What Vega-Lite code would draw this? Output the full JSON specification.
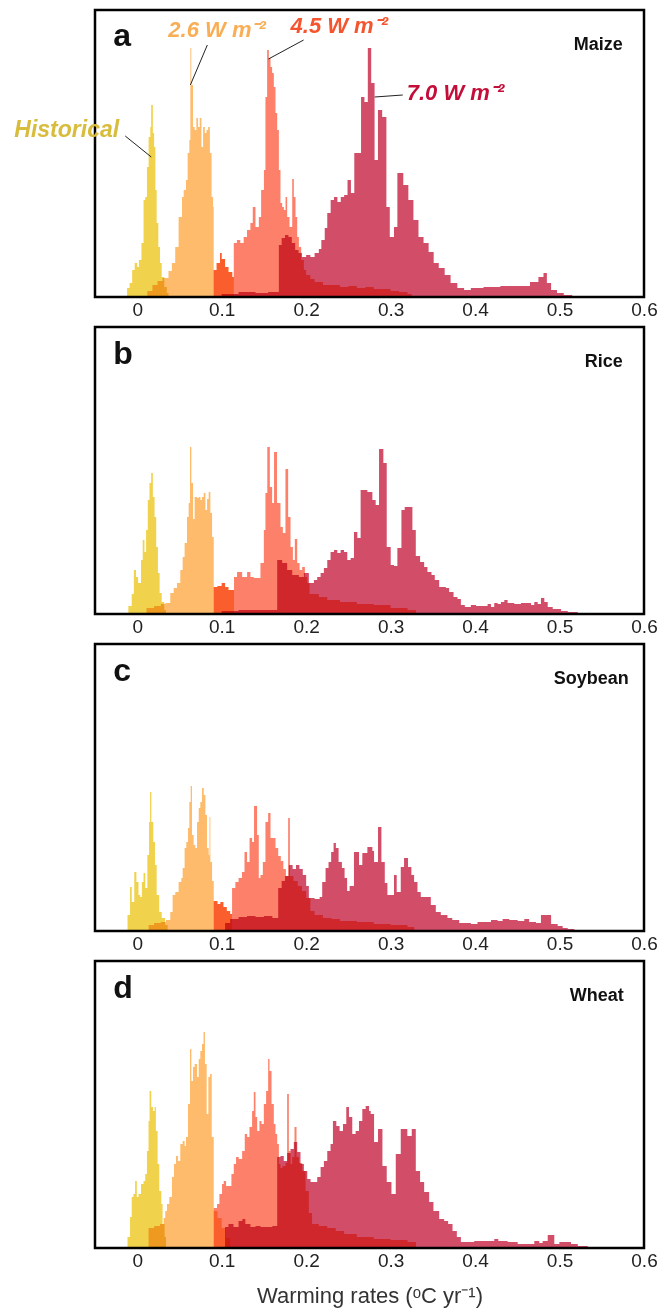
{
"$schema": "https://vega.github.io/schema/vega-lite/v6.json",
"background": "white",
"padding": {"left": 13, "top": 8, "right": 4, "bottom": 2},
"spacing": 4,
"config": {
 "font": "Liberation Sans",
 "view": {"stroke": "#000", "strokeWidth": 2.5},
 "axisX": {"ticks": false, "domain": false, "grid": false, "labelFontSize": 19, "labelColor": "#222", "labelPadding": 3, "labelFlush": false, "labelOverlap": false, "minExtent": 22, "maxExtent": 22, "titleFontSize": 22, "titleFontWeight": "normal", "titleColor": "#333", "titlePadding": 15}
},
"datasets": {
"a": [
{"s":"H","x":-0.012,"n":9},{"s":"H","x":-0.009,"n":14},{"s":"H","x":-0.006,"n":27},{"s":"H","x":-0.003,"n":34},{"s":"H","x":0,"n":30},{"s":"H","x":0.002,"n":37},{"s":"H","x":0.005,"n":54},{"s":"H","x":0.0075,"n":97},{"s":"H","x":0.0095,"n":100},{"s":"H","x":0.0115,"n":130},{"s":"H","x":0.0135,"n":160},{"s":"H","x":0.0155,"n":170},{"s":"H","x":0.0165,"n":192},{"s":"H","x":0.0185,"n":164},{"s":"H","x":0.02,"n":150},{"s":"H","x":0.0215,"n":107},{"s":"H","x":0.023,"n":74},{"s":"H","x":0.025,"n":50},{"s":"H","x":0.027,"n":34},{"s":"H","x":0.029,"n":20},{"s":"H","x":0.032,"n":10},{"s":"H","x":0.035,"n":4},{"s":"H","x":0.037,"n":0},
{"s":"2.6","x":0.012,"n":6},{"s":"2.6","x":0.018,"n":12},{"s":"2.6","x":0.024,"n":16},{"s":"2.6","x":0.03,"n":19},{"s":"2.6","x":0.0335,"n":19},{"s":"2.6","x":0.037,"n":26},{"s":"2.6","x":0.041,"n":34},{"s":"2.6","x":0.045,"n":50},{"s":"2.6","x":0.049,"n":80},{"s":"2.6","x":0.053,"n":100},{"s":"2.6","x":0.055,"n":107},{"s":"2.6","x":0.0577,"n":117},{"s":"2.6","x":0.0597,"n":144},{"s":"2.6","x":0.0617,"n":157},{"s":"2.6","x":0.0629,"n":249},{"s":"2.6","x":0.064,"n":212},{"s":"2.6","x":0.066,"n":170},{"s":"2.6","x":0.068,"n":167},{"s":"2.6","x":0.07,"n":179},{"s":"2.6","x":0.072,"n":170},{"s":"2.6","x":0.074,"n":179},{"s":"2.6","x":0.076,"n":150},{"s":"2.6","x":0.078,"n":170},{"s":"2.6","x":0.08,"n":164},{"s":"2.6","x":0.082,"n":167},{"s":"2.6","x":0.084,"n":170},{"s":"2.6","x":0.086,"n":144},{"s":"2.6","x":0.088,"n":100},{"s":"2.6","x":0.0898,"n":90},{"s":"2.6","x":0.0905,"n":27},{"s":"2.6","x":0.094,"n":34},{"s":"2.6","x":0.098,"n":44},{"s":"2.6","x":0.1,"n":38},{"s":"2.6","x":0.104,"n":30},{"s":"2.6","x":0.108,"n":25},{"s":"2.6","x":0.1125,"n":20},{"s":"2.6","x":0.1143,"n":0},
{"s":"4.5","x":0.0905,"n":27},{"s":"4.5","x":0.094,"n":34},{"s":"4.5","x":0.098,"n":44},{"s":"4.5","x":0.1,"n":38},{"s":"4.5","x":0.104,"n":30},{"s":"4.5","x":0.108,"n":25},{"s":"4.5","x":0.1125,"n":20},{"s":"4.5","x":0.1143,"n":54},{"s":"4.5","x":0.118,"n":57},{"s":"4.5","x":0.122,"n":54},{"s":"4.5","x":0.126,"n":60},{"s":"4.5","x":0.13,"n":67},{"s":"4.5","x":0.134,"n":74},{"s":"4.5","x":0.1368,"n":90},{"s":"4.5","x":0.14,"n":70},{"s":"4.5","x":0.144,"n":80},{"s":"4.5","x":0.1467,"n":107},{"s":"4.5","x":0.15,"n":127},{"s":"4.5","x":0.1518,"n":200},{"s":"4.5","x":0.1538,"n":247},{"s":"4.5","x":0.1558,"n":239},{"s":"4.5","x":0.1578,"n":230},{"s":"4.5","x":0.1597,"n":224},{"s":"4.5","x":0.1617,"n":210},{"s":"4.5","x":0.1637,"n":184},{"s":"4.5","x":0.1657,"n":167},{"s":"4.5","x":0.1677,"n":127},{"s":"4.5","x":0.1696,"n":94},{"s":"4.5","x":0.1716,"n":90},{"s":"4.5","x":0.1736,"n":87},{"s":"4.5","x":0.1756,"n":100},{"s":"4.5","x":0.1775,"n":80},{"s":"4.5","x":0.1803,"n":70},{"s":"4.5","x":0.1835,"n":118},{"s":"4.5","x":0.1854,"n":100},{"s":"4.5","x":0.1874,"n":80},{"s":"4.5","x":0.1894,"n":60},{"s":"4.5","x":0.1914,"n":50},{"s":"4.5","x":0.1941,"n":37},{"s":"4.5","x":0.1973,"n":27},{"s":"4.5","x":0.2,"n":22},{"s":"4.5","x":0.205,"n":18},{"s":"4.5","x":0.21,"n":15},{"s":"4.5","x":0.22,"n":12},{"s":"4.5","x":0.23,"n":12},{"s":"4.5","x":0.24,"n":10},{"s":"4.5","x":0.25,"n":11},{"s":"4.5","x":0.26,"n":9},{"s":"4.5","x":0.27,"n":10},{"s":"4.5","x":0.28,"n":8},{"s":"4.5","x":0.29,"n":8},{"s":"4.5","x":0.3,"n":6},{"s":"4.5","x":0.31,"n":5},{"s":"4.5","x":0.32,"n":3},{"s":"4.5","x":0.325,"n":0},
{"s":"7.0","x":0.1,"n":3},{"s":"7.0","x":0.12,"n":5},{"s":"7.0","x":0.14,"n":4},{"s":"7.0","x":0.155,"n":5},{"s":"7.0","x":0.1677,"n":52},{"s":"7.0","x":0.171,"n":59},{"s":"7.0","x":0.175,"n":62},{"s":"7.0","x":0.179,"n":60},{"s":"7.0","x":0.183,"n":54},{"s":"7.0","x":0.187,"n":47},{"s":"7.0","x":0.191,"n":44},{"s":"7.0","x":0.195,"n":40},{"s":"7.0","x":0.2,"n":42},{"s":"7.0","x":0.205,"n":40},{"s":"7.0","x":0.21,"n":44},{"s":"7.0","x":0.215,"n":48},{"s":"7.0","x":0.218,"n":57},{"s":"7.0","x":0.222,"n":69},{"s":"7.0","x":0.225,"n":84},{"s":"7.0","x":0.229,"n":97},{"s":"7.0","x":0.233,"n":100},{"s":"7.0","x":0.237,"n":95},{"s":"7.0","x":0.241,"n":100},{"s":"7.0","x":0.245,"n":102},{"s":"7.0","x":0.249,"n":117},{"s":"7.0","x":0.253,"n":104},{"s":"7.0","x":0.257,"n":144},{"s":"7.0","x":0.261,"n":144},{"s":"7.0","x":0.265,"n":200},{"s":"7.0","x":0.269,"n":195},{"s":"7.0","x":0.273,"n":249},{"s":"7.0","x":0.277,"n":214},{"s":"7.0","x":0.281,"n":137},{"s":"7.0","x":0.285,"n":187},{"s":"7.0","x":0.29,"n":180},{"s":"7.0","x":0.295,"n":90},{"s":"7.0","x":0.299,"n":60},{"s":"7.0","x":0.304,"n":70},{"s":"7.0","x":0.308,"n":124},{"s":"7.0","x":0.315,"n":112},{"s":"7.0","x":0.321,"n":97},{"s":"7.0","x":0.327,"n":77},{"s":"7.0","x":0.333,"n":60},{"s":"7.0","x":0.339,"n":54},{"s":"7.0","x":0.345,"n":45},{"s":"7.0","x":0.351,"n":34},{"s":"7.0","x":0.357,"n":29},{"s":"7.0","x":0.364,"n":22},{"s":"7.0","x":0.371,"n":14},{"s":"7.0","x":0.379,"n":9},{"s":"7.0","x":0.387,"n":7},{"s":"7.0","x":0.395,"n":9},{"s":"7.0","x":0.41,"n":10},{"s":"7.0","x":0.43,"n":11},{"s":"7.0","x":0.45,"n":11},{"s":"7.0","x":0.465,"n":15},{"s":"7.0","x":0.475,"n":20},{"s":"7.0","x":0.481,"n":24},{"s":"7.0","x":0.485,"n":14},{"s":"7.0","x":0.49,"n":7},{"s":"7.0","x":0.497,"n":4},{"s":"7.0","x":0.505,"n":2},{"s":"7.0","x":0.515,"n":0}
],
"b": [
{"s":"H","x":-0.0105,"n":8},{"s":"H","x":-0.0065,"n":20},{"s":"H","x":-0.004,"n":44},{"s":"H","x":-0.0015,"n":37},{"s":"H","x":0.001,"n":31},{"s":"H","x":0.0045,"n":54},{"s":"H","x":0.0065,"n":74},{"s":"H","x":0.0085,"n":62},{"s":"H","x":0.0105,"n":84},{"s":"H","x":0.0125,"n":114},{"s":"H","x":0.0145,"n":131},{"s":"H","x":0.0165,"n":141},{"s":"H","x":0.0185,"n":117},{"s":"H","x":0.0205,"n":97},{"s":"H","x":0.0225,"n":67},{"s":"H","x":0.0245,"n":41},{"s":"H","x":0.0265,"n":21},{"s":"H","x":0.029,"n":12},{"s":"H","x":0.032,"n":4},{"s":"H","x":0.034,"n":0},
{"s":"2.6","x":0.011,"n":6},{"s":"2.6","x":0.02,"n":8},{"s":"2.6","x":0.028,"n":10},{"s":"2.6","x":0.0332,"n":11},{"s":"2.6","x":0.0391,"n":21},{"s":"2.6","x":0.0431,"n":26},{"s":"2.6","x":0.0471,"n":31},{"s":"2.6","x":0.051,"n":44},{"s":"2.6","x":0.0538,"n":57},{"s":"2.6","x":0.0561,"n":71},{"s":"2.6","x":0.0589,"n":97},{"s":"2.6","x":0.0609,"n":111},{"s":"2.6","x":0.0625,"n":167},{"s":"2.6","x":0.0641,"n":131},{"s":"2.6","x":0.0661,"n":95},{"s":"2.6","x":0.068,"n":117},{"s":"2.6","x":0.0708,"n":116},{"s":"2.6","x":0.0728,"n":117},{"s":"2.6","x":0.0748,"n":114},{"s":"2.6","x":0.0767,"n":117},{"s":"2.6","x":0.0787,"n":121},{"s":"2.6","x":0.0807,"n":104},{"s":"2.6","x":0.0827,"n":115},{"s":"2.6","x":0.0846,"n":122},{"s":"2.6","x":0.0866,"n":101},{"s":"2.6","x":0.0886,"n":77},{"s":"2.6","x":0.0906,"n":27},{"s":"2.6","x":0.095,"n":28},{"s":"2.6","x":0.1,"n":31},{"s":"2.6","x":0.104,"n":27},{"s":"2.6","x":0.108,"n":24},{"s":"2.6","x":0.1146,"n":0},
{"s":"4.5","x":0.0906,"n":27},{"s":"4.5","x":0.095,"n":28},{"s":"4.5","x":0.1,"n":31},{"s":"4.5","x":0.104,"n":27},{"s":"4.5","x":0.108,"n":24},{"s":"4.5","x":0.1146,"n":37},{"s":"4.5","x":0.1182,"n":42},{"s":"4.5","x":0.1242,"n":37},{"s":"4.5","x":0.1301,"n":42},{"s":"4.5","x":0.134,"n":37},{"s":"4.5","x":0.138,"n":36},{"s":"4.5","x":0.1459,"n":51},{"s":"4.5","x":0.1499,"n":84},{"s":"4.5","x":0.1518,"n":121},{"s":"4.5","x":0.154,"n":167},{"s":"4.5","x":0.157,"n":127},{"s":"4.5","x":0.1597,"n":111},{"s":"4.5","x":0.162,"n":162},{"s":"4.5","x":0.1655,"n":111},{"s":"4.5","x":0.1696,"n":87},{"s":"4.5","x":0.1724,"n":81},{"s":"4.5","x":0.1755,"n":145},{"s":"4.5","x":0.1787,"n":97},{"s":"4.5","x":0.1815,"n":67},{"s":"4.5","x":0.1843,"n":54},{"s":"4.5","x":0.1866,"n":75},{"s":"4.5","x":0.1894,"n":51},{"s":"4.5","x":0.1922,"n":44},{"s":"4.5","x":0.1953,"n":47},{"s":"4.5","x":0.1985,"n":37},{"s":"4.5","x":0.2013,"n":31},{"s":"4.5","x":0.204,"n":20},{"s":"4.5","x":0.215,"n":17},{"s":"4.5","x":0.225,"n":14},{"s":"4.5","x":0.24,"n":12},{"s":"4.5","x":0.26,"n":10},{"s":"4.5","x":0.28,"n":9},{"s":"4.5","x":0.3,"n":6},{"s":"4.5","x":0.32,"n":4},{"s":"4.5","x":0.33,"n":0},
{"s":"7.0","x":0.1,"n":3},{"s":"7.0","x":0.12,"n":4},{"s":"7.0","x":0.14,"n":4},{"s":"7.0","x":0.155,"n":4},{"s":"7.0","x":0.1657,"n":54},{"s":"7.0","x":0.1716,"n":51},{"s":"7.0","x":0.1775,"n":44},{"s":"7.0","x":0.1835,"n":39},{"s":"7.0","x":0.1914,"n":37},{"s":"7.0","x":0.1973,"n":41},{"s":"7.0","x":0.2032,"n":31},{"s":"7.0","x":0.2092,"n":34},{"s":"7.0","x":0.2131,"n":37},{"s":"7.0","x":0.2171,"n":41},{"s":"7.0","x":0.221,"n":46},{"s":"7.0","x":0.225,"n":54},{"s":"7.0","x":0.2289,"n":62},{"s":"7.0","x":0.2329,"n":64},{"s":"7.0","x":0.2369,"n":61},{"s":"7.0","x":0.2408,"n":64},{"s":"7.0","x":0.2448,"n":62},{"s":"7.0","x":0.2487,"n":54},{"s":"7.0","x":0.2527,"n":56},{"s":"7.0","x":0.2566,"n":82},{"s":"7.0","x":0.2606,"n":76},{"s":"7.0","x":0.2645,"n":124},{"s":"7.0","x":0.2725,"n":122},{"s":"7.0","x":0.2784,"n":114},{"s":"7.0","x":0.2823,"n":109},{"s":"7.0","x":0.2863,"n":165},{"s":"7.0","x":0.2914,"n":151},{"s":"7.0","x":0.2954,"n":67},{"s":"7.0","x":0.3001,"n":49},{"s":"7.0","x":0.304,"n":48},{"s":"7.0","x":0.308,"n":66},{"s":"7.0","x":0.3128,"n":104},{"s":"7.0","x":0.3167,"n":107},{"s":"7.0","x":0.3258,"n":84},{"s":"7.0","x":0.3298,"n":58},{"s":"7.0","x":0.3349,"n":52},{"s":"7.0","x":0.3397,"n":47},{"s":"7.0","x":0.3436,"n":42},{"s":"7.0","x":0.3484,"n":39},{"s":"7.0","x":0.3523,"n":34},{"s":"7.0","x":0.3575,"n":27},{"s":"7.0","x":0.3654,"n":26},{"s":"7.0","x":0.3693,"n":22},{"s":"7.0","x":0.3745,"n":17},{"s":"7.0","x":0.3792,"n":15},{"s":"7.0","x":0.3832,"n":9},{"s":"7.0","x":0.3879,"n":7},{"s":"7.0","x":0.395,"n":9},{"s":"7.0","x":0.401,"n":8},{"s":"7.0","x":0.4148,"n":10},{"s":"7.0","x":0.4188,"n":7},{"s":"7.0","x":0.4227,"n":11},{"s":"7.0","x":0.4267,"n":10},{"s":"7.0","x":0.4306,"n":12},{"s":"7.0","x":0.4346,"n":14},{"s":"7.0","x":0.4385,"n":11},{"s":"7.0","x":0.4464,"n":10},{"s":"7.0","x":0.4543,"n":11},{"s":"7.0","x":0.4662,"n":9},{"s":"7.0","x":0.4701,"n":12},{"s":"7.0","x":0.4741,"n":10},{"s":"7.0","x":0.478,"n":16},{"s":"7.0","x":0.482,"n":12},{"s":"7.0","x":0.486,"n":7},{"s":"7.0","x":0.4919,"n":5},{"s":"7.0","x":0.5018,"n":3},{"s":"7.0","x":0.5097,"n":2},{"s":"7.0","x":0.5216,"n":0}
],
"c": [
{"s":"H","x":-0.0115,"n":16},{"s":"H","x":-0.0085,"n":44},{"s":"H","x":-0.0065,"n":29},{"s":"H","x":-0.0035,"n":59},{"s":"H","x":-0.001,"n":49},{"s":"H","x":0.0015,"n":36},{"s":"H","x":0.0035,"n":34},{"s":"H","x":0.0055,"n":49},{"s":"H","x":0.0075,"n":58},{"s":"H","x":0.0095,"n":43},{"s":"H","x":0.012,"n":76},{"s":"H","x":0.014,"n":109},{"s":"H","x":0.0152,"n":139},{"s":"H","x":0.0167,"n":109},{"s":"H","x":0.019,"n":89},{"s":"H","x":0.021,"n":66},{"s":"H","x":0.023,"n":36},{"s":"H","x":0.026,"n":19},{"s":"H","x":0.029,"n":13},{"s":"H","x":0.033,"n":6},{"s":"H","x":0.036,"n":0},
{"s":"2.6","x":0.0135,"n":6},{"s":"2.6","x":0.02,"n":8},{"s":"2.6","x":0.028,"n":9},{"s":"2.6","x":0.034,"n":11},{"s":"2.6","x":0.0391,"n":19},{"s":"2.6","x":0.0419,"n":36},{"s":"2.6","x":0.0451,"n":39},{"s":"2.6","x":0.049,"n":49},{"s":"2.6","x":0.0522,"n":53},{"s":"2.6","x":0.0538,"n":63},{"s":"2.6","x":0.0561,"n":83},{"s":"2.6","x":0.0581,"n":89},{"s":"2.6","x":0.0601,"n":103},{"s":"2.6","x":0.0617,"n":129},{"s":"2.6","x":0.0633,"n":145},{"s":"2.6","x":0.0648,"n":96},{"s":"2.6","x":0.0668,"n":86},{"s":"2.6","x":0.0688,"n":83},{"s":"2.6","x":0.0708,"n":109},{"s":"2.6","x":0.0728,"n":123},{"s":"2.6","x":0.0747,"n":129},{"s":"2.6","x":0.0767,"n":143},{"s":"2.6","x":0.0787,"n":136},{"s":"2.6","x":0.0807,"n":116},{"s":"2.6","x":0.0826,"n":83},{"s":"2.6","x":0.0846,"n":76},{"s":"2.6","x":0.0856,"n":114},{"s":"2.6","x":0.0866,"n":69},{"s":"2.6","x":0.0886,"n":50},{"s":"2.6","x":0.0906,"n":30},{"s":"2.6","x":0.095,"n":27},{"s":"2.6","x":0.0985,"n":29},{"s":"2.6","x":0.102,"n":24},{"s":"2.6","x":0.106,"n":20},{"s":"2.6","x":0.11,"n":17},{"s":"2.6","x":0.1123,"n":0},
{"s":"4.5","x":0.0906,"n":30},{"s":"4.5","x":0.095,"n":27},{"s":"4.5","x":0.0985,"n":29},{"s":"4.5","x":0.102,"n":24},{"s":"4.5","x":0.106,"n":20},{"s":"4.5","x":0.11,"n":17},{"s":"4.5","x":0.1123,"n":43},{"s":"4.5","x":0.1162,"n":49},{"s":"4.5","x":0.12,"n":53},{"s":"4.5","x":0.124,"n":59},{"s":"4.5","x":0.127,"n":79},{"s":"4.5","x":0.13,"n":69},{"s":"4.5","x":0.133,"n":93},{"s":"4.5","x":0.136,"n":89},{"s":"4.5","x":0.1383,"n":125},{"s":"4.5","x":0.1419,"n":96},{"s":"4.5","x":0.1439,"n":53},{"s":"4.5","x":0.1459,"n":56},{"s":"4.5","x":0.1487,"n":69},{"s":"4.5","x":0.1518,"n":109},{"s":"4.5","x":0.155,"n":118},{"s":"4.5","x":0.1578,"n":93},{"s":"4.5","x":0.1606,"n":93},{"s":"4.5","x":0.1637,"n":83},{"s":"4.5","x":0.1669,"n":75},{"s":"4.5","x":0.17,"n":70},{"s":"4.5","x":0.173,"n":62},{"s":"4.5","x":0.176,"n":55},{"s":"4.5","x":0.1787,"n":113},{"s":"4.5","x":0.1807,"n":55},{"s":"4.5","x":0.185,"n":50},{"s":"4.5","x":0.19,"n":45},{"s":"4.5","x":0.195,"n":40},{"s":"4.5","x":0.2,"n":33},{"s":"4.5","x":0.205,"n":20},{"s":"4.5","x":0.21,"n":16},{"s":"4.5","x":0.22,"n":13},{"s":"4.5","x":0.23,"n":12},{"s":"4.5","x":0.24,"n":10},{"s":"4.5","x":0.26,"n":9},{"s":"4.5","x":0.28,"n":7},{"s":"4.5","x":0.3,"n":6},{"s":"4.5","x":0.32,"n":4},{"s":"4.5","x":0.328,"n":0},
{"s":"7.0","x":0.104,"n":8},{"s":"7.0","x":0.11,"n":12},{"s":"7.0","x":0.12,"n":14},{"s":"7.0","x":0.13,"n":15},{"s":"7.0","x":0.14,"n":14},{"s":"7.0","x":0.15,"n":15},{"s":"7.0","x":0.16,"n":13},{"s":"7.0","x":0.1669,"n":43},{"s":"7.0","x":0.171,"n":50},{"s":"7.0","x":0.175,"n":55},{"s":"7.0","x":0.1795,"n":66},{"s":"7.0","x":0.184,"n":62},{"s":"7.0","x":0.188,"n":66},{"s":"7.0","x":0.192,"n":62},{"s":"7.0","x":0.196,"n":56},{"s":"7.0","x":0.2,"n":45},{"s":"7.0","x":0.2032,"n":33},{"s":"7.0","x":0.21,"n":32},{"s":"7.0","x":0.216,"n":34},{"s":"7.0","x":0.219,"n":49},{"s":"7.0","x":0.223,"n":63},{"s":"7.0","x":0.2265,"n":69},{"s":"7.0","x":0.2296,"n":79},{"s":"7.0","x":0.2325,"n":88},{"s":"7.0","x":0.2352,"n":83},{"s":"7.0","x":0.2384,"n":69},{"s":"7.0","x":0.2423,"n":63},{"s":"7.0","x":0.2455,"n":53},{"s":"7.0","x":0.2485,"n":40},{"s":"7.0","x":0.2515,"n":45},{"s":"7.0","x":0.2566,"n":79},{"s":"7.0","x":0.2626,"n":66},{"s":"7.0","x":0.2665,"n":78},{"s":"7.0","x":0.2725,"n":84},{"s":"7.0","x":0.2784,"n":80},{"s":"7.0","x":0.2804,"n":69},{"s":"7.0","x":0.2851,"n":104},{"s":"7.0","x":0.2891,"n":69},{"s":"7.0","x":0.2931,"n":48},{"s":"7.0","x":0.2962,"n":36},{"s":"7.0","x":0.304,"n":56},{"s":"7.0","x":0.3072,"n":39},{"s":"7.0","x":0.312,"n":64},{"s":"7.0","x":0.3159,"n":73},{"s":"7.0","x":0.3206,"n":64},{"s":"7.0","x":0.3246,"n":56},{"s":"7.0","x":0.3278,"n":49},{"s":"7.0","x":0.3318,"n":39},{"s":"7.0","x":0.3357,"n":34},{"s":"7.0","x":0.3476,"n":26},{"s":"7.0","x":0.3535,"n":19},{"s":"7.0","x":0.3594,"n":16},{"s":"7.0","x":0.3673,"n":13},{"s":"7.0","x":0.373,"n":11},{"s":"7.0","x":0.3812,"n":8},{"s":"7.0","x":0.395,"n":7},{"s":"7.0","x":0.4029,"n":9},{"s":"7.0","x":0.4188,"n":11},{"s":"7.0","x":0.4267,"n":10},{"s":"7.0","x":0.4326,"n":12},{"s":"7.0","x":0.4405,"n":11},{"s":"7.0","x":0.4504,"n":10},{"s":"7.0","x":0.4583,"n":12},{"s":"7.0","x":0.464,"n":9},{"s":"7.0","x":0.4721,"n":8},{"s":"7.0","x":0.478,"n":16},{"s":"7.0","x":0.49,"n":7},{"s":"7.0","x":0.4978,"n":5},{"s":"7.0","x":0.5037,"n":3},{"s":"7.0","x":0.5097,"n":2},{"s":"7.0","x":0.5176,"n":0}
],
"d": [
{"s":"H","x":-0.0115,"n":11},{"s":"H","x":-0.0085,"n":31},{"s":"H","x":-0.0065,"n":51},{"s":"H","x":-0.0045,"n":54},{"s":"H","x":-0.0025,"n":67},{"s":"H","x":-0.0005,"n":51},{"s":"H","x":0.0015,"n":54},{"s":"H","x":0.0045,"n":64},{"s":"H","x":0.0075,"n":67},{"s":"H","x":0.0095,"n":74},{"s":"H","x":0.0115,"n":97},{"s":"H","x":0.0134,"n":127},{"s":"H","x":0.0146,"n":157},{"s":"H","x":0.0166,"n":141},{"s":"H","x":0.0186,"n":137},{"s":"H","x":0.0206,"n":141},{"s":"H","x":0.0221,"n":117},{"s":"H","x":0.0241,"n":84},{"s":"H","x":0.0261,"n":57},{"s":"H","x":0.0285,"n":44},{"s":"H","x":0.03,"n":24},{"s":"H","x":0.0324,"n":11},{"s":"H","x":0.034,"n":0},
{"s":"2.6","x":0.0134,"n":20},{"s":"2.6","x":0.02,"n":22},{"s":"2.6","x":0.027,"n":24},{"s":"2.6","x":0.0312,"n":30},{"s":"2.6","x":0.0332,"n":37},{"s":"2.6","x":0.0352,"n":44},{"s":"2.6","x":0.038,"n":51},{"s":"2.6","x":0.0411,"n":71},{"s":"2.6","x":0.0435,"n":84},{"s":"2.6","x":0.0459,"n":92},{"s":"2.6","x":0.0482,"n":87},{"s":"2.6","x":0.051,"n":104},{"s":"2.6","x":0.0538,"n":107},{"s":"2.6","x":0.0561,"n":102},{"s":"2.6","x":0.0577,"n":111},{"s":"2.6","x":0.0601,"n":144},{"s":"2.6","x":0.0625,"n":199},{"s":"2.6","x":0.0641,"n":167},{"s":"2.6","x":0.0661,"n":181},{"s":"2.6","x":0.068,"n":184},{"s":"2.6","x":0.0708,"n":171},{"s":"2.6","x":0.0728,"n":189},{"s":"2.6","x":0.0747,"n":197},{"s":"2.6","x":0.0767,"n":204},{"s":"2.6","x":0.0785,"n":216},{"s":"2.6","x":0.0802,"n":184},{"s":"2.6","x":0.0822,"n":134},{"s":"2.6","x":0.0842,"n":171},{"s":"2.6","x":0.0862,"n":174},{"s":"2.6","x":0.0882,"n":111},{"s":"2.6","x":0.0906,"n":37},{"s":"2.6","x":0.095,"n":30},{"s":"2.6","x":0.1,"n":20},{"s":"2.6","x":0.105,"n":10},{"s":"2.6","x":0.11,"n":0},
{"s":"4.5","x":0.0906,"n":40},{"s":"4.5","x":0.0945,"n":44},{"s":"4.5","x":0.0973,"n":54},{"s":"4.5","x":0.1004,"n":64},{"s":"4.5","x":0.1024,"n":67},{"s":"4.5","x":0.1052,"n":62},{"s":"4.5","x":0.1083,"n":62},{"s":"4.5","x":0.1115,"n":74},{"s":"4.5","x":0.1143,"n":84},{"s":"4.5","x":0.117,"n":91},{"s":"4.5","x":0.1202,"n":89},{"s":"4.5","x":0.1242,"n":97},{"s":"4.5","x":0.1273,"n":114},{"s":"4.5","x":0.1301,"n":111},{"s":"4.5","x":0.1329,"n":121},{"s":"4.5","x":0.136,"n":137},{"s":"4.5","x":0.138,"n":156},{"s":"4.5","x":0.14,"n":131},{"s":"4.5","x":0.142,"n":117},{"s":"4.5","x":0.1447,"n":127},{"s":"4.5","x":0.1471,"n":124},{"s":"4.5","x":0.1499,"n":144},{"s":"4.5","x":0.1526,"n":157},{"s":"4.5","x":0.155,"n":189},{"s":"4.5","x":0.1566,"n":177},{"s":"4.5","x":0.159,"n":144},{"s":"4.5","x":0.1617,"n":124},{"s":"4.5","x":0.1637,"n":114},{"s":"4.5","x":0.1657,"n":104},{"s":"4.5","x":0.1677,"n":84},{"s":"4.5","x":0.1696,"n":80},{"s":"4.5","x":0.172,"n":82},{"s":"4.5","x":0.1756,"n":85},{"s":"4.5","x":0.1775,"n":154},{"s":"4.5","x":0.1795,"n":97},{"s":"4.5","x":0.1815,"n":84},{"s":"4.5","x":0.1835,"n":91},{"s":"4.5","x":0.1862,"n":121},{"s":"4.5","x":0.1886,"n":91},{"s":"4.5","x":0.1914,"n":85},{"s":"4.5","x":0.1953,"n":77},{"s":"4.5","x":0.1993,"n":57},{"s":"4.5","x":0.2032,"n":35},{"s":"4.5","x":0.207,"n":24},{"s":"4.5","x":0.215,"n":22},{"s":"4.5","x":0.225,"n":20},{"s":"4.5","x":0.235,"n":17},{"s":"4.5","x":0.245,"n":14},{"s":"4.5","x":0.26,"n":11},{"s":"4.5","x":0.28,"n":9},{"s":"4.5","x":0.3,"n":8},{"s":"4.5","x":0.32,"n":6},{"s":"4.5","x":0.33,"n":0},
{"s":"7.0","x":0.104,"n":21},{"s":"7.0","x":0.108,"n":24},{"s":"7.0","x":0.114,"n":21},{"s":"7.0","x":0.12,"n":27},{"s":"7.0","x":0.1245,"n":29},{"s":"7.0","x":0.128,"n":24},{"s":"7.0","x":0.134,"n":21},{"s":"7.0","x":0.14,"n":22},{"s":"7.0","x":0.146,"n":21},{"s":"7.0","x":0.152,"n":21},{"s":"7.0","x":0.16,"n":22},{"s":"7.0","x":0.1657,"n":91},{"s":"7.0","x":0.1696,"n":92},{"s":"7.0","x":0.1735,"n":87},{"s":"7.0","x":0.1775,"n":95},{"s":"7.0","x":0.1815,"n":99},{"s":"7.0","x":0.1854,"n":106},{"s":"7.0","x":0.1894,"n":96},{"s":"7.0","x":0.1933,"n":84},{"s":"7.0","x":0.1973,"n":77},{"s":"7.0","x":0.2013,"n":69},{"s":"7.0","x":0.2052,"n":66},{"s":"7.0","x":0.2131,"n":71},{"s":"7.0","x":0.2171,"n":81},{"s":"7.0","x":0.221,"n":87},{"s":"7.0","x":0.225,"n":97},{"s":"7.0","x":0.2289,"n":104},{"s":"7.0","x":0.2317,"n":127},{"s":"7.0","x":0.2357,"n":122},{"s":"7.0","x":0.2396,"n":117},{"s":"7.0","x":0.2436,"n":124},{"s":"7.0","x":0.2475,"n":141},{"s":"7.0","x":0.2507,"n":131},{"s":"7.0","x":0.2546,"n":114},{"s":"7.0","x":0.2586,"n":117},{"s":"7.0","x":0.2626,"n":127},{"s":"7.0","x":0.2665,"n":139},{"s":"7.0","x":0.2705,"n":142},{"s":"7.0","x":0.2745,"n":137},{"s":"7.0","x":0.2764,"n":134},{"s":"7.0","x":0.2804,"n":106},{"s":"7.0","x":0.2851,"n":119},{"s":"7.0","x":0.2903,"n":82},{"s":"7.0","x":0.2954,"n":66},{"s":"7.0","x":0.301,"n":54},{"s":"7.0","x":0.3061,"n":94},{"s":"7.0","x":0.312,"n":119},{"s":"7.0","x":0.3198,"n":112},{"s":"7.0","x":0.325,"n":119},{"s":"7.0","x":0.3298,"n":77},{"s":"7.0","x":0.3349,"n":66},{"s":"7.0","x":0.3397,"n":56},{"s":"7.0","x":0.3456,"n":46},{"s":"7.0","x":0.3507,"n":37},{"s":"7.0","x":0.3575,"n":29},{"s":"7.0","x":0.3634,"n":27},{"s":"7.0","x":0.3681,"n":24},{"s":"7.0","x":0.3733,"n":17},{"s":"7.0","x":0.3784,"n":11},{"s":"7.0","x":0.3832,"n":6},{"s":"7.0","x":0.399,"n":7},{"s":"7.0","x":0.4227,"n":9},{"s":"7.0","x":0.4275,"n":7},{"s":"7.0","x":0.4385,"n":6},{"s":"7.0","x":0.4504,"n":4},{"s":"7.0","x":0.4701,"n":7},{"s":"7.0","x":0.476,"n":5},{"s":"7.0","x":0.48,"n":7},{"s":"7.0","x":0.486,"n":13},{"s":"7.0","x":0.4938,"n":4},{"s":"7.0","x":0.4998,"n":6},{"s":"7.0","x":0.5136,"n":4},{"s":"7.0","x":0.5216,"n":2},{"s":"7.0","x":0.5334,"n":0}
]
},
"vconcat": [
{"width": 549, "height": 287, "layer": [
 {"data": {"name": "a"}, "mark": {"type": "area", "interpolate": "step-after", "blend": "multiply"},
  "encoding": {
   "x": {"field": "x", "type": "quantitative", "scale": {"domain": [-0.05, 0.6], "nice": false, "zero": false}, "axis": {"values": [0, 0.1, 0.2, 0.3, 0.4, 0.5, 0.6], "format": ".1~f", "title": null}},
   "y": {"field": "n", "type": "quantitative", "stack": null, "scale": {"domain": [0, 287], "nice": false}, "axis": null},
   "color": {"field": "s", "type": "nominal", "scale": {"domain": ["H", "2.6", "4.5", "7.0"], "range": ["#F0D24C", "#FDBB6B", "#FC806A", "#D24D68"]}, "legend": null}}},
 {"data": {"values": [{"letter": "a", "crop": "Maize"}]}, "mark": {"type": "text", "align": "left", "baseline": "alphabetic", "fontSize": 32, "fontWeight": "bold", "fill": "#111"},
  "encoding": {"x": {"datum": -0.0285}, "y": {"datum": 251, "axis": null}, "text": {"field": "letter"}}},
 {"data": {"values": [{"letter": "a", "crop": "Maize"}]}, "mark": {"type": "text", "align": "right", "baseline": "alphabetic", "fontSize": 18, "fontWeight": "bold", "fill": "#111"},
  "encoding": {"x": {"datum": 0.575}, "y": {"datum": 247, "axis": null}, "text": {"field": "crop"}}},
 {"data": {"values": [{"lab": "Historical"}]}, "mark": {"type": "text", "align": "right", "baseline": "alphabetic", "fontSize": 23, "fontWeight": "bold", "fontStyle": "italic", "fill": "#D8BC3C"},
  "encoding": {"x": {"datum": -0.0214}, "y": {"datum": 160, "axis": null}, "text": {"field": "lab"}}},
 {"data": {"values": [{"lab": "2.6 W m⁻²"}]}, "mark": {"type": "text", "align": "left", "baseline": "alphabetic", "fontSize": 22, "fontWeight": "bold", "fontStyle": "italic", "fill": "#F9AE55"},
  "encoding": {"x": {"datum": 0.0368}, "y": {"datum": 260, "axis": null}, "text": {"field": "lab"}}},
 {"data": {"values": [{"lab": "4.5 W m⁻²"}]}, "mark": {"type": "text", "align": "left", "baseline": "alphabetic", "fontSize": 22, "fontWeight": "bold", "fontStyle": "italic", "fill": "#F4552F"},
  "encoding": {"x": {"datum": 0.1815}, "y": {"datum": 264, "axis": null}, "text": {"field": "lab"}}},
 {"data": {"values": [{"lab": "7.0 W m⁻²"}]}, "mark": {"type": "text", "align": "left", "baseline": "alphabetic", "fontSize": 22, "fontWeight": "bold", "fontStyle": "italic", "fill": "#C40E3A"},
  "encoding": {"x": {"datum": 0.3191}, "y": {"datum": 197, "axis": null}, "text": {"field": "lab"}}},
 {"data": {"values": [{"lab": "Historical"}]}, "mark": {"type": "rule", "stroke": "#222", "strokeWidth": 1},
  "encoding": {"x": {"datum": -0.0142}, "x2": {"datum": 0.0166}, "y": {"datum": 161, "axis": null}, "y2": {"datum": 140}}},
 {"data": {"values": [{"lab": "2.6"}]}, "mark": {"type": "rule", "stroke": "#222", "strokeWidth": 1},
  "encoding": {"x": {"datum": 0.083}, "x2": {"datum": 0.0629}, "y": {"datum": 252, "axis": null}, "y2": {"datum": 212}}},
 {"data": {"values": [{"lab": "4.5"}]}, "mark": {"type": "rule", "stroke": "#222", "strokeWidth": 1},
  "encoding": {"x": {"datum": 0.197}, "x2": {"datum": 0.1554}, "y": {"datum": 257, "axis": null}, "y2": {"datum": 238}}},
 {"data": {"values": [{"lab": "7.0"}]}, "mark": {"type": "rule", "stroke": "#222", "strokeWidth": 1},
  "encoding": {"x": {"datum": 0.2811}, "x2": {"datum": 0.3144}, "y": {"datum": 200, "axis": null}, "y2": {"datum": 202}}}
]},
{"width": 549, "height": 287, "layer": [
 {"data": {"name": "b"}, "mark": {"type": "area", "interpolate": "step-after", "blend": "multiply"},
  "encoding": {
   "x": {"field": "x", "type": "quantitative", "scale": {"domain": [-0.05, 0.6], "nice": false, "zero": false}, "axis": {"values": [0, 0.1, 0.2, 0.3, 0.4, 0.5, 0.6], "format": ".1~f", "title": null}},
   "y": {"field": "n", "type": "quantitative", "stack": null, "scale": {"domain": [0, 287], "nice": false}, "axis": null},
   "color": {"field": "s", "type": "nominal", "scale": {"domain": ["H", "2.6", "4.5", "7.0"], "range": ["#F0D24C", "#FDBB6B", "#FC806A", "#D24D68"]}, "legend": null}}},
 {"data": {"values": [{"letter": "b", "crop": "Rice"}]}, "mark": {"type": "text", "align": "left", "baseline": "alphabetic", "fontSize": 32, "fontWeight": "bold", "fill": "#111"},
  "encoding": {"x": {"datum": -0.0285}, "y": {"datum": 250, "axis": null}, "text": {"field": "letter"}}},
 {"data": {"values": [{"letter": "b", "crop": "Rice"}]}, "mark": {"type": "text", "align": "right", "baseline": "alphabetic", "fontSize": 18, "fontWeight": "bold", "fill": "#111"},
  "encoding": {"x": {"datum": 0.575}, "y": {"datum": 247, "axis": null}, "text": {"field": "crop"}}}
]},
{"width": 549, "height": 287, "layer": [
 {"data": {"name": "c"}, "mark": {"type": "area", "interpolate": "step-after", "blend": "multiply"},
  "encoding": {
   "x": {"field": "x", "type": "quantitative", "scale": {"domain": [-0.05, 0.6], "nice": false, "zero": false}, "axis": {"values": [0, 0.1, 0.2, 0.3, 0.4, 0.5, 0.6], "format": ".1~f", "title": null}},
   "y": {"field": "n", "type": "quantitative", "stack": null, "scale": {"domain": [0, 287], "nice": false}, "axis": null},
   "color": {"field": "s", "type": "nominal", "scale": {"domain": ["H", "2.6", "4.5", "7.0"], "range": ["#F0D24C", "#FDBB6B", "#FC806A", "#D24D68"]}, "legend": null}}},
 {"data": {"values": [{"letter": "c", "crop": "Soybean"}]}, "mark": {"type": "text", "align": "left", "baseline": "alphabetic", "fontSize": 32, "fontWeight": "bold", "fill": "#111"},
  "encoding": {"x": {"datum": -0.0285}, "y": {"datum": 250, "axis": null}, "text": {"field": "letter"}}},
 {"data": {"values": [{"letter": "c", "crop": "Soybean"}]}, "mark": {"type": "text", "align": "right", "baseline": "alphabetic", "fontSize": 18, "fontWeight": "bold", "fill": "#111"},
  "encoding": {"x": {"datum": 0.582}, "y": {"datum": 247, "axis": null}, "text": {"field": "crop"}}}
]},
{"width": 549, "height": 287, "layer": [
 {"data": {"name": "d"}, "mark": {"type": "area", "interpolate": "step-after", "blend": "multiply"},
  "encoding": {
   "x": {"field": "x", "type": "quantitative", "scale": {"domain": [-0.05, 0.6], "nice": false, "zero": false}, "axis": {"values": [0, 0.1, 0.2, 0.3, 0.4, 0.5, 0.6], "format": ".1~f", "title": "Warming rates (ᵒC yr⁻¹)"}},
   "y": {"field": "n", "type": "quantitative", "stack": null, "scale": {"domain": [0, 287], "nice": false}, "axis": null},
   "color": {"field": "s", "type": "nominal", "scale": {"domain": ["H", "2.6", "4.5", "7.0"], "range": ["#F0D24C", "#FDBB6B", "#FC806A", "#D24D68"]}, "legend": null}}},
 {"data": {"values": [{"letter": "d", "crop": "Wheat"}]}, "mark": {"type": "text", "align": "left", "baseline": "alphabetic", "fontSize": 32, "fontWeight": "bold", "fill": "#111"},
  "encoding": {"x": {"datum": -0.0285}, "y": {"datum": 250, "axis": null}, "text": {"field": "letter"}}},
 {"data": {"values": [{"letter": "d", "crop": "Wheat"}]}, "mark": {"type": "text", "align": "right", "baseline": "alphabetic", "fontSize": 18, "fontWeight": "bold", "fill": "#111"},
  "encoding": {"x": {"datum": 0.576}, "y": {"datum": 247, "axis": null}, "text": {"field": "crop"}}}
]}
]
}
